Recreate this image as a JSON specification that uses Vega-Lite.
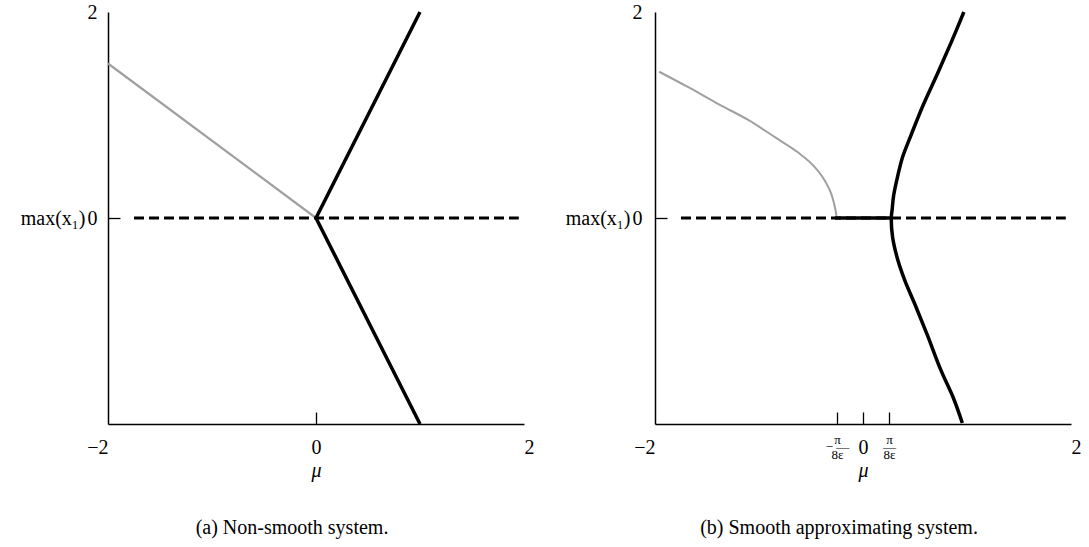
{
  "$schema": "https://vega.github.io/schema/vega-lite/v6.json",
  "padding": {"left": 20, "top": 2, "right": 2, "bottom": 2},
  "spacing": 131,
  "bounds": "flush",
  "config": {
    "view": {"stroke": null},
    "font": "Liberation Serif",
    "axis": {
      "labelFont": "Liberation Serif",
      "titleFont": "Liberation Serif",
      "labelColor": "black",
      "titleColor": "black",
      "titleFontWeight": "normal",
      "grid": false,
      "domainColor": "black",
      "domainWidth": 1.5,
      "tickColor": "black",
      "tickWidth": 1.3
    },
    "title": {"font": "Liberation Serif", "fontWeight": "normal", "color": "black", "fontSize": 20}
  },
  "datasets": {
    "a": [
      {"s": "unstable", "mu": -2, "y": 1.5, "o": 1},
      {"s": "unstable", "mu": 0, "y": 0, "o": 2},
      {"s": "stable", "mu": 1, "y": 2, "o": 1},
      {"s": "stable", "mu": 0, "y": 0, "o": 2},
      {"s": "stable", "mu": 1, "y": -2, "o": 3},
      {"s": "zero", "mu": -1.75, "y": 0, "o": 1},
      {"s": "zero", "mu": 1.95, "y": 0, "o": 2}
    ],
    "b": [
      {"s": "unstable", "mu": -1.96, "y": 1.42, "o": 1},
      {"s": "unstable", "mu": -1.68, "y": 1.27, "o": 2},
      {"s": "unstable", "mu": -1.38, "y": 1.1, "o": 3},
      {"s": "unstable", "mu": -1.1, "y": 0.95, "o": 4},
      {"s": "unstable", "mu": -0.84, "y": 0.78, "o": 5},
      {"s": "unstable", "mu": -0.63, "y": 0.64, "o": 6},
      {"s": "unstable", "mu": -0.46, "y": 0.49, "o": 7},
      {"s": "unstable", "mu": -0.36, "y": 0.35, "o": 8},
      {"s": "unstable", "mu": -0.3, "y": 0.22, "o": 9},
      {"s": "unstable", "mu": -0.265, "y": 0.08, "o": 10},
      {"s": "unstable", "mu": -0.255, "y": 0.02, "o": 11},
      {"s": "stable", "mu": 0.97, "y": 2.0, "o": 1},
      {"s": "stable", "mu": 0.85, "y": 1.71, "o": 2},
      {"s": "stable", "mu": 0.72, "y": 1.41, "o": 3},
      {"s": "stable", "mu": 0.58, "y": 1.1, "o": 4},
      {"s": "stable", "mu": 0.46, "y": 0.8, "o": 5},
      {"s": "stable", "mu": 0.38, "y": 0.59, "o": 6},
      {"s": "stable", "mu": 0.33, "y": 0.39, "o": 7},
      {"s": "stable", "mu": 0.295, "y": 0.22, "o": 8},
      {"s": "stable", "mu": 0.28, "y": 0.08, "o": 9},
      {"s": "stable", "mu": 0.272, "y": 0, "o": 10},
      {"s": "stable", "mu": 0.285, "y": -0.19, "o": 11},
      {"s": "stable", "mu": 0.33, "y": -0.39, "o": 12},
      {"s": "stable", "mu": 0.4, "y": -0.6, "o": 13},
      {"s": "stable", "mu": 0.5, "y": -0.84, "o": 14},
      {"s": "stable", "mu": 0.62, "y": -1.14, "o": 15},
      {"s": "stable", "mu": 0.75, "y": -1.48, "o": 16},
      {"s": "stable", "mu": 0.87, "y": -1.75, "o": 17},
      {"s": "stable", "mu": 0.955, "y": -1.99, "o": 18},
      {"s": "flat", "mu": -0.27, "y": 0, "o": 1},
      {"s": "flat", "mu": 0.272, "y": 0, "o": 2},
      {"s": "zero", "mu": -1.75, "y": 0, "o": 1},
      {"s": "zero", "mu": 1.95, "y": 0, "o": 2}
    ]
  },
  "hconcat": [
    {
      "width": 416,
      "height": 412,
      "data": {"name": "a"},
      "title": {"text": "(a) Non-smooth system.", "orient": "bottom", "anchor": "middle", "frame": "group", "dx": -24, "offset": 38},
      "encoding": {
        "x": {
          "field": "mu", "type": "quantitative",
          "scale": {"domain": [-2, 2], "nice": false, "zero": false},
          "axis": {
            "values": [-2, 0, 2],
            "title": "μ",
            "titleFontStyle": "italic",
            "titleFontSize": 20,
            "titlePadding": 3,
            "labelFontSize": 20,
            "labelFlush": false,
            "labelPadding": 25,
            "tickSize": -12,
            "tickOpacity": {"condition": {"test": "datum.value == 0", "value": 1}, "value": 0},
            "labelAlign": {"condition": [{"test": "datum.value < -1.9", "value": "right"}, {"test": "datum.value > 1.9", "value": "left"}], "value": "center"}
          }
        },
        "y": {
          "field": "y", "type": "quantitative",
          "scale": {"domain": [-2, 2], "nice": false, "zero": false},
          "axis": {
            "values": [0, 2],
            "title": "max(x₁)",
            "titleAngle": 0,
            "titleAlign": "right",
            "titleBaseline": "middle",
            "titleFontSize": 20,
            "titlePadding": 2,
            "labelFontSize": 20,
            "labelPadding": 23,
            "labelBaseline": "middle",
            "tickSize": -12,
            "tickOpacity": {"condition": {"test": "datum.value == 0", "value": 1}, "value": 0}
          }
        },
        "order": {"field": "o", "type": "quantitative"}
      },
      "layer": [
        {"transform": [{"filter": "datum.s == 'unstable'"}], "mark": {"type": "line", "color": "#a0a0a0", "strokeWidth": 2.2}},
        {"transform": [{"filter": "datum.s == 'zero'"}], "mark": {"type": "line", "color": "black", "strokeWidth": 3, "strokeDash": [10, 5]}},
        {"transform": [{"filter": "datum.s == 'stable'"}], "mark": {"type": "line", "color": "black", "strokeWidth": 3.5, "strokeJoin": "miter"}}
      ]
    },
    {
      "width": 416,
      "height": 412,
      "data": {"name": "b"},
      "title": {"text": "(b) Smooth approximating system.", "orient": "bottom", "anchor": "middle", "frame": "group", "dx": -24, "offset": 38},
      "encoding": {
        "x": {
          "field": "mu", "type": "quantitative",
          "scale": {"domain": [-2, 2], "nice": false, "zero": false},
          "axis": {
            "values": [-2, -0.25, 0, 0.25, 2],
            "title": "μ",
            "titleFontStyle": "italic",
            "titleFontSize": 20,
            "titlePadding": -1,
            "labelFontSize": {"condition": {"test": "abs(datum.value) == 0.25", "value": 13}, "value": 20},
            "labelFlush": false,
            "labelPadding": {"condition": {"test": "abs(datum.value) == 0.25", "value": 21}, "value": 25},
            "labelLineHeight": 7.5,
            "labelExpr": "datum.value == 0.25 ? ['π', '—', '8ε'] : datum.value == -0.25 ? ['π', '−\u00a0—\u00a0\u00a0\u00a0', '8ε'] : datum.label",
            "tickSize": -12,
            "tickOpacity": {"condition": {"test": "abs(datum.value) < 1", "value": 1}, "value": 0},
            "labelAlign": {"condition": [{"test": "datum.value < -1.9", "value": "right"}, {"test": "datum.value > 1.9", "value": "left"}], "value": "center"}
          }
        },
        "y": {
          "field": "y", "type": "quantitative",
          "scale": {"domain": [-2, 2], "nice": false, "zero": false},
          "axis": {
            "values": [0, 2],
            "title": "max(x₁)",
            "titleAngle": 0,
            "titleAlign": "right",
            "titleBaseline": "middle",
            "titleFontSize": 20,
            "titlePadding": 2,
            "labelFontSize": 20,
            "labelPadding": 25,
            "labelBaseline": "middle",
            "tickSize": -12,
            "tickOpacity": {"condition": {"test": "datum.value == 0", "value": 1}, "value": 0}
          }
        },
        "order": {"field": "o", "type": "quantitative"}
      },
      "layer": [
        {"transform": [{"filter": "datum.s == 'unstable'"}], "mark": {"type": "line", "color": "#a0a0a0", "strokeWidth": 2, "interpolate": "monotone"}},
        {"transform": [{"filter": "datum.s == 'zero'"}], "mark": {"type": "line", "color": "black", "strokeWidth": 3, "strokeDash": [10, 5]}},
        {"transform": [{"filter": "datum.s == 'flat'"}], "mark": {"type": "line", "color": "black", "strokeWidth": 3.5}},
        {"transform": [{"filter": "datum.s == 'stable'"}], "mark": {"type": "line", "color": "black", "strokeWidth": 3.5, "interpolate": "catmull-rom"}}
      ]
    }
  ]
}
